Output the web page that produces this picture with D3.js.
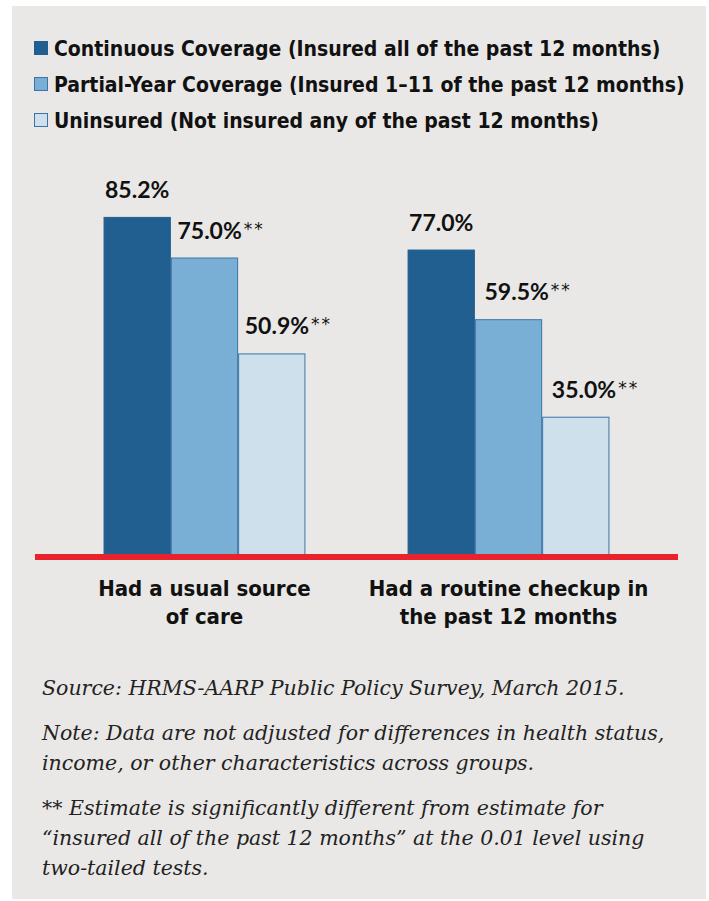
<!DOCTYPE html>
<html>
<head>
<meta charset="utf-8">
<script src="https://cdn.jsdelivr.net/npm/d3@7/dist/d3.min.js"></script>
<style>
  html, body { margin: 0; padding: 0; background: #ffffff; }
  svg { display: block; }
</style>
</head>
<body>
<script>
// ---- data ----
const categories = [["Had a usual source", "of care"], ["Had a routine checkup in", "the past 12 months"]];
const seriesNames = [
  "Continuous Coverage (Insured all of the past 12 months)",
  "Partial-Year Coverage (Insured  1–11 of the past 12 months)",
  "Uninsured (Not insured any of the past 12 months)"
];
const continuous = [85.2, 77.0];
const partialYear = [75.0, 59.5];
const uninsured = [50.9, 35.0];
const significant = [false, true, true]; // per series: "**" marker
const notes = [
  ["Source: HRMS-AARP Public Policy Survey, March 2015."],
  ["Note: Data are not adjusted for differences in health status,", "income, or other characteristics across groups."],
  ["** Estimate is significantly different from estimate for", "\u201Cinsured all of the past 12 months\u201D at the 0.01 level using", "two-tailed tests."]
];

const seriesValues = [continuous, partialYear, uninsured];
const colors = ["#215f91", "#7aafd5", "#cde0eb"];
const strokes = ["#215f91", "#3a74a8", "#3a74a8"];

const W = 709, H = 901;
const svg = d3.select("body").append("svg").attr("width", W).attr("height", H);

// background panel
svg.append("rect").attr("x", 12).attr("y", 6).attr("width", 694).attr("height", 893).attr("fill", "#e9e8e6");

const condensed = "'Liberation Sans Narrow', 'DejaVu Sans Condensed', 'Arial Narrow', sans-serif";

// legend
const leg = svg.append("g");
seriesNames.forEach((name, i) => {
  const y = 41 + i * 36;
  leg.append("rect").attr("x", 34.5).attr("y", y + 0.5).attr("width", 13).attr("height", 13)
    .attr("fill", colors[i]).attr("stroke", strokes[i]).attr("stroke-width", 1);
  leg.append("text").attr("x", 54).attr("y", y + 15)
    .attr("font-family", condensed).attr("font-weight", "bold").attr("font-size", 21)
    .attr("fill", "#111").text(name);
});

// scales
const baseline = 556;
const y = d3.scaleLinear().domain([0, 100]).range([baseline, 158]);
const x0 = d3.scaleBand().domain(d3.range(categories.length)).range([35, 678]).paddingInner(0.336).paddingOuter(0.2255);
const x1 = d3.scaleBand().domain(d3.range(seriesValues.length)).range([0, x0.bandwidth()]);

const groups = svg.append("g").selectAll("g").data(categories).join("g")
  .attr("transform", (d, i) => `translate(${x0(i)},0)`);

groups.each(function(cat, ci) {
  const g = d3.select(this);
  seriesValues.forEach((vals, si) => {
    const v = vals[ci];
    g.append("rect")
      .attr("x", x1(si) + 0.5).attr("y", y(v) + 0.5)
      .attr("width", x1.bandwidth() - 1).attr("height", baseline - y(v))
      .attr("fill", colors[si]).attr("stroke", strokes[si]).attr("stroke-width", 1);
    const cx = x1(si) + x1.bandwidth() / 2;
    const t = g.append("text")
      .attr("x", significant[si] ? cx - 27 + (ci * 3) : cx)
      .attr("y", y(v) - 19)
      .attr("font-family", "Lato, 'Open Sans', sans-serif").attr("font-weight", 700)
      .attr("font-size", 23).attr("fill", "#111")
      .attr("text-anchor", significant[si] ? "start" : "middle");
    t.append("tspan").text(d3.format(".1f")(v) + "%");
    if (significant[si]) {
      t.append("tspan").attr("font-family", "'DejaVu Sans', sans-serif")
        .attr("font-size", 17).attr("font-weight", 400).attr("dy", -4)
        .attr("letter-spacing", 2).attr("dx", 2).text("**");
    }
  });
  // category label
  cat.forEach((line, li) => {
    g.append("text").attr("x", x0.bandwidth() / 2).attr("y", 596 + li * 28)
      .attr("text-anchor", "middle")
      .attr("font-family", condensed).attr("font-weight", "bold").attr("font-size", 22)
      .attr("fill", "#111").text(line);
  });
});

// red baseline
svg.append("line").attr("x1", 35).attr("x2", 678).attr("y1", 557).attr("y2", 557)
  .attr("stroke", "#e8232b").attr("stroke-width", 6);

// notes
const noteStarts = [695, 740, 815];
notes.forEach((para, pi) => {
  para.forEach((line, li) => {
    svg.append("text").attr("x", 42).attr("y", noteStarts[pi] + li * 30)
      .attr("font-family", "'DejaVu Serif', serif").attr("font-style", "italic")
      .attr("font-size", 20.5).attr("fill", "#222").text(line);
  });
});
</script>
</body>
</html>
